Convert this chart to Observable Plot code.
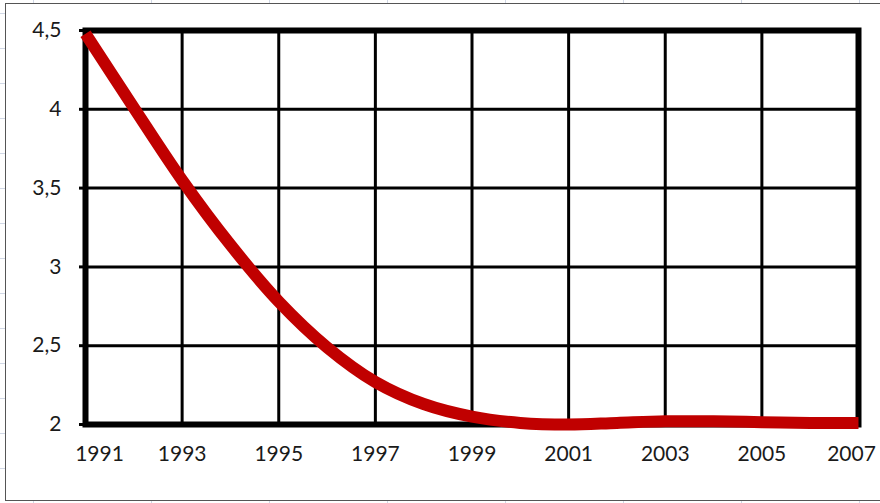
<!DOCTYPE html>
<html><head><meta charset="utf-8">
<script src="https://cdn.jsdelivr.net/npm/d3@7"></script>
<script src="https://cdn.jsdelivr.net/npm/@observablehq/plot@0.6"></script>
<style>
html,body{margin:0;padding:0;width:880px;height:503px;overflow:hidden;background:#fff;}
#sheet{position:absolute;left:0;top:0;width:880px;height:503px;
 background-image: linear-gradient(to right, #d0d7e5 1px, transparent 1px), linear-gradient(to bottom, #d0d7e5 1px, transparent 1px);
 background-size:118px 35px; background-position: 33px 13px;}
#box{position:absolute;left:5px;top:3px;width:900px;height:498px;border:1.5px solid #555;background:#fff;box-sizing:border-box}
#chart{position:absolute;left:0;top:0}
</style></head>
<body><div id="sheet"></div><div id="box"></div><div id="chart"></div>
<script>
const years = [1991,1992,1993,1994,1995,1996,1997,1998,1999,2000,2001,2002,2003,2004,2005,2006,2007];
const values = [4.48,4.01,3.55,3.14,2.78,2.49,2.27,2.13,2.05,2.01,2.0,2.01,2.02,2.02,2.015,2.01,2.01];
const yTicks = [2,2.5,3,3.5,4,4.5];
const xTicks = [1991,1993,1995,1997,1999,2001,2003,2005,2007];
const data = years.map((year,i)=>({year, value: values[i]}));

const chart = Plot.plot({
  width:880, height:503, marginLeft:85, marginRight:22, marginTop:30, marginBottom:79,
  style:{background:"transparent", fontFamily:"Lato, sans-serif", fontSize:"21px", color:"#1a1a1a"},
  x:{domain:[1991,2007], label:null},
  y:{domain:[2,4.5], label:null},
  marks:[
    Plot.gridX(xTicks,{stroke:"black", strokeOpacity:1, strokeWidth:3}),
    Plot.gridY(yTicks,{stroke:"black", strokeOpacity:1, strokeWidth:3}),
    Plot.axisY(yTicks,{tickSize:6, tickPadding:18, strokeWidth:3, stroke:"black", label:null,
      tickFormat: d => String(d).replace(".", ",")}),
    Plot.axisX(xTicks,{tickSize:0, tickPadding:22, label:null, tickFormat: d => String(d)}),
    Plot.frame({stroke:"black", strokeWidth:6}),
    Plot.line(data,{x:"year", y:"value", stroke:"#c00000", strokeWidth:12, curve:"catmull-rom", strokeLinecap:"butt", strokeLinejoin:"round"})
  ]
});
document.getElementById("chart").appendChild(chart);
const xl = d3.select(chart).selectAll('g[aria-label="x-axis tick label"] text');
const n = xl.size();
xl.each(function(d,i){
  if (i===0) d3.select(this).attr("dx", 14);
  if (i===n-1) d3.select(this).attr("dx", -7);
});
</script>
</body></html>
